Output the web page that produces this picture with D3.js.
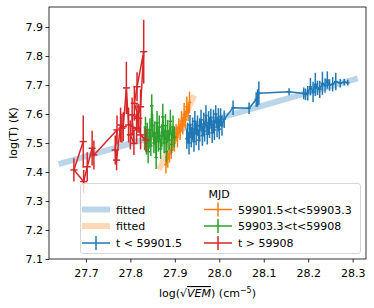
<!DOCTYPE html>
<html><head><meta charset="utf-8">
<script src="https://cdn.jsdelivr.net/npm/d3@7"></script>
<style>body{margin:0;background:#fff} text{font-family:"DejaVu Sans",sans-serif;fill:#000}</style>
</head><body><svg id="c" width="374" height="308"></svg>
<script>
const xTicks=[27.7,27.8,27.9,28.0,28.1,28.2,28.3];
const yTicks=[7.1,7.2,7.3,7.4,7.5,7.6,7.7,7.8,7.9];
const seriesLabels=["t < 59901.5","59901.5<t<59903.3","59903.3<t<59908","t > 59908"];
const fitLabels=["fitted","fitted"];
const legendTitle="MJD";

const blueX=[28.289,28.281,28.272,28.262,28.255,28.248,28.243,28.238,28.232,28.226,28.221,28.216,28.211,28.205,28.199,28.194,28.190,28.157,28.089,28.086,28.083,28.067,28.031,28.011,
28.006,28.003,28.000,27.998,27.995,27.992,27.989,27.987,27.984,27.981,27.978,27.976,27.973,27.970,27.967,27.965,27.962,27.959,27.956,27.954,27.951,27.948,27.945,27.943,27.940,27.937,27.934,27.932,27.929,27.927];
const blueY=[7.708,7.710,7.706,7.712,7.703,7.700,7.717,7.698,7.706,7.685,7.690,7.702,7.676,7.694,7.672,7.668,7.671,7.677,7.672,7.655,7.650,7.620,7.622,7.582,
7.560,7.590,7.548,7.580,7.555,7.600,7.545,7.575,7.535,7.588,7.552,7.570,7.530,7.595,7.540,7.565,7.525,7.580,7.545,7.510,7.560,7.532,7.575,7.505,7.548,7.520,7.562,7.500,7.535,7.515];
const blueYErr=[0.01,0.012,0.015,0.03,0.025,0.02,0.03,0.025,0.04,0.03,0.025,0.04,0.035,0.03,0.025,0.02,0.02,0.012,0.04,0.03,0.025,0.02,0.025,0.03,
0.035,0.03,0.035,0.04,0.035,0.03,0.035,0.04,0.035,0.03,0.035,0.04,0.035,0.035,0.035,0.04,0.035,0.035,0.04,0.035,0.035,0.04,0.035,0.035,0.04,0.035,0.035,0.04,0.035,0.035];
const blueXErr=0.004;

const orangeX=[27.933,27.930,27.927,27.924,27.921,27.918,27.915,27.912,27.909,27.906,27.903,27.899,27.896,27.892,27.888,27.884,27.880];
const orangeY=[7.640,7.605,7.625,7.580,7.598,7.560,7.575,7.540,7.555,7.520,7.535,7.500,7.510,7.475,7.462,7.445,7.425];
const orangeYErr=[0.037,0.03,0.035,0.03,0.04,0.03,0.035,0.03,0.03,0.035,0.03,0.03,0.035,0.03,0.03,0.03,0.03];
const orangeXErr=0.004;

const greenX=[27.899,27.896,27.893,27.890,27.887,27.884,27.881,27.879,27.876,27.873,27.871,27.868,27.865,27.863,27.860,27.858,27.855,27.853,27.850,27.848,27.846,27.844,27.842,27.840,27.838,27.836,27.834,27.832];
const greenY=[7.520,7.555,7.495,7.575,7.510,7.540,7.470,7.560,7.500,7.590,7.525,7.480,7.555,7.505,7.570,7.450,7.535,7.500,7.560,7.628,7.490,7.545,7.515,7.470,7.535,7.500,7.555,7.515];
const greenYErr=[0.035,0.04,0.03,0.04,0.035,0.04,0.035,0.04,0.035,0.045,0.04,0.035,0.04,0.035,0.04,0.04,0.04,0.035,0.04,0.04,0.035,0.04,0.035,0.04,0.035,0.04,0.035,0.04];
const greenXErr=0.004;

const redX=[27.835,27.823,27.815,27.823,27.830,27.815,27.809,27.819,27.804,27.808,27.800,27.814,27.796,27.791,27.784,27.781,27.778,27.769,27.766,27.770,27.718,27.714,27.703,27.695,27.673,27.694];
const redY=[7.510,7.528,7.585,7.625,7.815,7.694,7.637,7.585,7.597,7.499,7.528,7.551,7.562,7.690,7.556,7.551,7.562,7.441,7.476,7.545,7.459,7.482,7.418,7.367,7.407,7.505];
const redYErr=[0.04,0.05,0.05,0.06,0.11,0.05,0.06,0.05,0.06,0.04,0.05,0.05,0.06,0.09,0.05,0.05,0.06,0.035,0.05,0.05,0.05,0.06,0.05,0.04,0.04,0.09];
const redXErr=0.008;

const fitBlueX=[27.645,28.305], fitBlueY=[7.43,7.72];
const fitOrangeX=[27.867,27.941], fitOrangeY=[7.417,7.655];

const colors=["#1f77b4","#ff7f0e","#2ca02c","#d62728"];

const svg=d3.select("#c");
const L=49,R=366,T=7,B=259;
const x=d3.scaleLinear().domain([27.617,28.33]).range([L,R]);
const y=d3.scaleLinear().domain([7.1,7.969]).range([B,T]);
const fs=11;

const plot=svg.append("g");
const ln=d3.line().x(d=>x(d[0])).y(d=>y(d[1]));
function fit(xs,ys,c){
  plot.append("path").attr("d",ln(xs.map((v,i)=>[v,ys[i]]))).attr("stroke",c).attr("stroke-opacity",0.3)
   .attr("stroke-width",6).attr("fill","none").attr("stroke-linecap","square");
}
fit(fitBlueX,fitBlueY,colors[0]);
fit(fitOrangeX,fitOrangeY,colors[1]);

function series(xs,ys,ye,xe,c){
  const g=plot.append("g").attr("stroke",c).attr("stroke-width",1.5).attr("fill","none");
  const pts=xs.map((v,i)=>[v,ys[i],ye[i]]);
  g.selectAll("line.v").data(pts).enter().append("line")
   .attr("x1",d=>x(d[0])).attr("x2",d=>x(d[0])).attr("y1",d=>y(d[1]-d[2])).attr("y2",d=>y(d[1]+d[2]));
  g.selectAll("line.h").data(pts).enter().append("line")
   .attr("x1",d=>x(d[0]-xe)).attr("x2",d=>x(d[0]+xe)).attr("y1",d=>y(d[1])).attr("y2",d=>y(d[1]));
  g.append("path").attr("d",ln(pts)).attr("stroke-linejoin","round");
}
series(blueX,blueY,blueYErr,blueXErr,colors[0]);
series(orangeX,orangeY,orangeYErr,orangeXErr,colors[1]);
series(greenX,greenY,greenYErr,greenXErr,colors[2]);
series(redX,redY,redYErr,redXErr,colors[3]);

// axes
const xa=svg.append("g").attr("transform",`translate(0,${B})`)
 .call(d3.axisBottom(x).tickValues(xTicks).tickFormat(d3.format(".1f")).tickSize(3.5).tickSizeOuter(0));
const ya=svg.append("g").attr("transform",`translate(${L},0)`)
 .call(d3.axisLeft(y).tickValues(yTicks).tickFormat(d3.format(".1f")).tickSize(3.5).tickSizeOuter(0));
[xa,ya].forEach(a=>{a.select(".domain").remove();a.selectAll("text").style("font-size",fs+"px").style("font-family","DejaVu Sans");a.selectAll("line").attr("stroke","#000").attr("stroke-width",0.8);});
xa.selectAll("text").attr("dy",null).attr("y",18);
ya.selectAll("text").attr("x",-6).attr("dy","0.35em");
svg.append("rect").attr("x",L).attr("y",T).attr("width",R-L).attr("height",B-T).attr("fill","none").attr("stroke","#000").attr("stroke-width",0.8);

// axis labels
const xl=svg.append("text").attr("x",(L+R)/2).attr("y",297).attr("text-anchor","middle").style("font-size",fs+"px");
xl.append("tspan").text("log(√");
xl.append("tspan").text("VEM").style("font-style","italic").style("text-decoration","overline");
xl.append("tspan").text(") (cm");
xl.append("tspan").text("−5").attr("dy",-4).style("font-size","8px");
xl.append("tspan").text(")").attr("dy",4);
svg.append("text").attr("transform",`translate(17,${(T+B)/2}) rotate(-90)`).attr("text-anchor","middle").style("font-size",fs+"px").text("log(T) (K)");

// legend
const lg=svg.append("g");
lg.append("rect").attr("x",80.5).attr("y",183.5).attr("width",280).attr("height",70).attr("rx",2.5)
 .attr("fill","#fff").attr("fill-opacity",0.8).attr("stroke","#ccc").attr("stroke-width",0.8);
lg.append("text").attr("x",219).attr("y",198).attr("text-anchor","middle").style("font-size",fs+"px").text(legendTitle);
const rowsY=[209.5,226,243];
function fitHandle(cx,cy,c){lg.append("line").attr("x1",cx).attr("x2",cx+28).attr("y1",cy).attr("y2",cy).attr("stroke",c).attr("stroke-opacity",0.3).attr("stroke-width",6);}
function ebHandle(cx,cy,c){
  lg.append("line").attr("x1",cx).attr("x2",cx+28).attr("y1",cy).attr("y2",cy).attr("stroke",c).attr("stroke-width",1.5);
  lg.append("line").attr("x1",cx+14).attr("x2",cx+14).attr("y1",cy-7).attr("y2",cy+7).attr("stroke",c).attr("stroke-width",1.5);
}
function ltext(tx,ty,s){lg.append("text").attr("x",tx).attr("y",ty+4).style("font-size",fs+"px").text(s);}
fitHandle(82,rowsY[0],colors[0]); ltext(116,rowsY[0],fitLabels[0]);
fitHandle(82,rowsY[1],colors[1]); ltext(116,rowsY[1],fitLabels[1]);
ebHandle(82,rowsY[2],colors[0]); ltext(116,rowsY[2],seriesLabels[0]);
ebHandle(204,rowsY[0],colors[1]); ltext(238,rowsY[0],seriesLabels[1]);
ebHandle(204,rowsY[1],colors[2]); ltext(238,rowsY[1],seriesLabels[2]);
ebHandle(204,rowsY[2],colors[3]); ltext(238,rowsY[2],seriesLabels[3]);
</script></body></html>
